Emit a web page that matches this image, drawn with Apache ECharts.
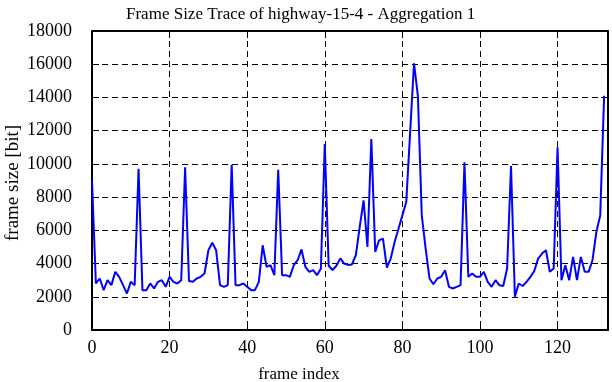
<!DOCTYPE html>
<html>
<head>
<meta charset="utf-8">
<script src="https://cdn.jsdelivr.net/npm/echarts@6/dist/echarts.min.js"></script>
<style>html,body{margin:0;padding:0;background:#fff;}#c{width:612px;height:382px;}</style>
</head>
<body>
<div id="c"></div>
<script>
var titleText = 'Frame Size Trace of highway-15-4 - Aggregation 1';
var xName = 'frame index';
var yName = 'frame size [bit]';
var frameSizes = [
  9000, 2800, 3100, 2400, 3000, 2700, 3500, 3200, 2700, 2200,
  2900, 2700, 9700, 2400, 2400, 2800, 2500, 2900, 3000, 2600,
  3200, 2900, 2800, 3000, 9800, 2950, 2900, 3100, 3200, 3400,
  4800, 5250, 4800, 2700, 2600, 2700, 9950, 2700, 2700, 2800,
  2600, 2400, 2400, 2900, 5100, 3800, 3900, 3300, 9650, 3300,
  3300, 3200, 3900, 4200, 4850, 3800, 3500, 3600, 3300, 3700,
  11200, 3870, 3610, 3870, 4310, 4000, 3920, 3950, 4500, 6200,
  7800, 5000, 11500, 4700, 5400, 5500, 3750, 4300, 5300, 6100,
  6900, 7700, 11900, 16050, 14100, 6900, 4900, 3100, 2750, 3100,
  3200, 3600, 2600, 2500, 2600, 2700, 10100, 3200, 3400, 3200,
  3200, 3500, 2900, 2600, 3000, 2700, 2650, 3700, 9870, 2000,
  2800, 2650, 2900, 3200, 3550, 4300, 4600, 4800, 3500, 3700,
  11000, 3000, 3900, 3000, 4400, 3000, 4400, 3500, 3500, 4200,
  5900, 6900, 14100
];
var xMin = 0, xMax = 133, xStep = 20;
var yMin = 0, yMax = 18000, yStep = 2000;

var seriesData = frameSizes.map(function (v, i) { return [i, v]; });
var font = 'Liberation Serif';
var black = '#000';
var chart = echarts.init(document.getElementById('c'), null, {renderer: 'canvas'});
var grid = {left: 92, right: 4, top: 31, bottom: 52, containLabel: false, outerBoundsMode: 'none'};
var tick = {show: true, inside: true, length: 7, lineStyle: {color: black, width: 1}};
var line = {show: true, onZero: false, lineStyle: {color: black, width: 2}};
var dash = {show: true, lineStyle: {color: black, width: 1, type: [6, 4]}};
chart.setOption({
  animation: false,
  backgroundColor: '#fff',
  title: {
    text: titleText, left: 121, top: 1,
    textStyle: {fontFamily: font, fontSize: 17, fontWeight: 'normal', color: black}
  },
  grid: grid,
  graphic: [{
    type: 'text', x: 299, y: 375, z: 10,
    style: {text: xName, fill: black, font: '17px "Liberation Serif"', textAlign: 'center', textVerticalAlign: 'middle'}
  }, {
    type: 'text', x: 13, y: 183, rotation: Math.PI / 2, z: 10,
    style: {text: yName, fill: black, font: '19px "Liberation Serif"', textAlign: 'center', textVerticalAlign: 'middle'}
  }],
  xAxis: [{
    type: 'value', min: xMin, max: xMax, interval: xStep, position: 'bottom',
    axisLine: line, axisTick: tick, splitLine: dash,
    axisLabel: {fontFamily: font, fontSize: 18, color: black, margin: 9, showMaxLabel: false,
      formatter: function (v) { return v % xStep === 0 ? String(v) : ''; }}
  }, {
    type: 'value', min: xMin, max: xMax, interval: xStep, position: 'top',
    axisLine: line, axisTick: tick, splitLine: {show: false}, axisLabel: {show: false}
  }],
  yAxis: [{
    type: 'value', min: yMin, max: yMax, interval: yStep, position: 'left',
    axisLine: line, axisTick: tick, splitLine: dash,
    axisLabel: {fontFamily: font, fontSize: 18, color: black, margin: 20,
      formatter: function (v) { return String(v); }}
  }, {
    type: 'value', min: yMin, max: yMax, interval: yStep, position: 'right',
    axisLine: line, axisTick: tick, splitLine: {show: false}, axisLabel: {show: false}
  }],
  series: [{
    type: 'line', data: seriesData, showSymbol: false, symbol: 'none',
    lineStyle: {color: '#0000ff', width: 2}, itemStyle: {color: '#0000ff'},
    xAxisIndex: 0, yAxisIndex: 0, z: 3
  }]
});
</script>
</body>
</html>
